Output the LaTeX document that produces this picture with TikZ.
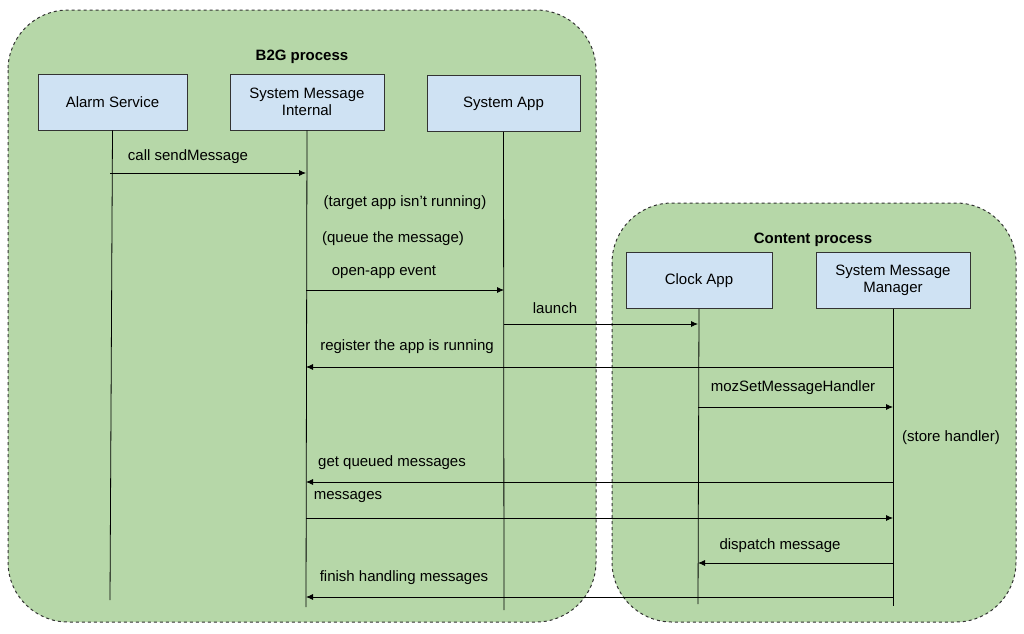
\documentclass[tikz,border=0pt]{standalone}
\usepackage{fontspec}
\setmainfont{Liberation Sans}
\usetikzlibrary{arrows.meta}
\definecolor{grp}{HTML}{B6D7A8}
\definecolor{bx}{HTML}{CFE2F3}
\begin{document}
\begin{tikzpicture}[x=1pt,y=-1pt,
  grpbox/.style={draw=black!80,fill=grp,dashed,line width=1pt,rounded corners=60},
  actor/.style={draw=black!80,fill=bx,line width=0.8pt,minimum width=#1,minimum height=56,align=center,font=\fontsize{15}{17}\selectfont,inner sep=2},
  life/.style={line width=0.8pt},
  msg/.style={line width=0.8pt,-{Latex[length=7,width=6]}},
  lbl/.style={font=\fontsize{15}{17}\selectfont,inner sep=0},
  ttl/.style={font=\fontsize{15}{17}\selectfont\bfseries}]
\useasboundingbox (0,0) rectangle (1024,633);
\path[grpbox] (8,10) rectangle (596,622);
\path[grpbox] (612,203) rectangle (1016,622);
\node[ttl] (t1) at (302,57) {B2G process};
\node[ttl] (t2) at (813,240) {Content process};
\node[actor=149] (as) at (112.5,102) {Alarm Service};
\node[actor=154] (smi) at (307,102) {System Message\\Internal};
\node[actor=153] (sa) at (503.5,103.5) {System App};
\node[actor=146] (ca) at (699,280.5) {Clock App};
\node[actor=154] (smm) at (893,280.5) {System Message\\Manager};
\coordinate (e1) at (110,600);
\coordinate (e2) at (306,607);
\coordinate (e3) at (504,610);
\coordinate (e4) at (698,604);
\coordinate (e5) at (893,606);
\draw[life] (as.south) -- (e1);
\draw[life] (smi.south) -- (e2);
\draw[life] (sa.south) -- (e3);
\draw[life] (ca.south) -- (e4);
\draw[life] (smm.south) -- (e5);
\draw[msg] (110,173) -- (306,173);
\node[lbl] (l1) at (188,157) {call sendMessage};
\node[lbl] (l2) at (405,203) {(target app isn’t running)};
\node[lbl] (l3) at (393,239) {(queue the message)};
\draw[msg] (306,290) -- (504,290);
\node[lbl] (l4) at (384,272) {open-app event};
\draw[msg] (504,324) -- (698,324);
\node[lbl] (l5) at (555,308) {launch};
\draw[msg] (893,367) -- (306,367);
\node[lbl] (l6) at (407,347) {register the app is running};
\draw[msg] (698,407) -- (893,407);
\node[lbl] (l7) at (793,388) {mozSetMessageHandler};
\node[lbl] (l8) at (951,438) {(store handler)};
\draw[msg] (893,482) -- (306,482);
\node[lbl] (l9) at (392,463) {get queued messages};
\draw[msg] (306,518) -- (893,518);
\node[lbl] (l10) at (348,497) {messages};
\draw[msg] (893,563) -- (698,563);
\node[lbl] (l11) at (780,546) {dispatch message};
\draw[msg] (893,597) -- (306,597);
\node[lbl] (l12) at (404,578) {finish handling messages};
\end{tikzpicture}
\end{document}
